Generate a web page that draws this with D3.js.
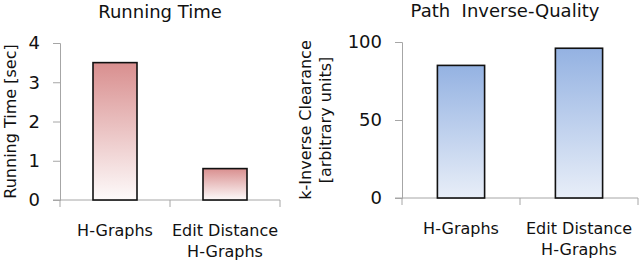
<!DOCTYPE html>
<html>
<head>
<meta charset="utf-8">
<script src="https://cdn.jsdelivr.net/npm/d3@7"></script>
<style>
  body { margin: 0; background: #fff; }
  text { font-family: "DejaVu Sans", Verdana, sans-serif; fill: #111; }
</style>
</head>
<body>
<div id="chart"></div>
<script>
const width = 640;
const height = 262;

// data
const categories = ["H-Graphs", "Edit Distance\nH-Graphs"];
const runningTime = [3.5, 0.8];
const runningTicks = [0, 1, 2, 3, 4];
const inverseQuality = [85, 96];
const qualityTicks = [0, 50, 100];

const svg = d3.select("#chart")
    .append("svg")
    .attr("width", width)
    .attr("height", height);

const defs = svg.append("defs");

function addGradient(id, top, bottom) {
    const g = defs.append("linearGradient")
        .attr("id", id)
        .attr("x1", 0).attr("y1", 0)
        .attr("x2", 0).attr("y2", 1);
    g.append("stop").attr("offset", "0%").attr("stop-color", top);
    g.append("stop").attr("offset", "100%").attr("stop-color", bottom);
}
addGradient("redGrad", "#d98f8f", "#fdfafa");
addGradient("blueGrad", "#94b2e2", "#e8eef8");

function drawPanel(opts) {
    const x = d3.scaleBand()
        .domain(categories)
        .range(opts.xRange)
        .padding(0);

    const y = d3.scaleLinear()
        .domain(opts.yDomain)
        .range(opts.yRange);

    const g = svg.append("g");
    const axisColor = "#a6a6a6";

    // y axis
    const yAxis = g.append("g")
        .attr("transform", `translate(${opts.xRange[0]},0)`)
        .call(d3.axisLeft(y).tickValues(opts.ticks).tickFormat(d3.format("d")).tickSize(7).tickPadding(13));
    yAxis.select(".domain").attr("stroke", axisColor);
    yAxis.selectAll(".tick line").attr("stroke", axisColor);
    yAxis.selectAll(".tick text")
        .attr("font-size", 18)
        .attr("fill", "#111")
        .attr("font-family", "DejaVu Sans, sans-serif");

    // x axis with ticks at category boundaries
    const x0 = opts.xRange[0], x1 = opts.xRange[1];
    const y0 = y(0);
    g.append("line")
        .attr("x1", x0 - 7).attr("x2", x1)
        .attr("y1", y0).attr("y2", y0)
        .attr("stroke", axisColor);
    const bounds = [x0].concat(categories.map(c => x(c) + x.bandwidth()));
    g.selectAll(".xtick")
        .data(bounds)
        .enter().append("line")
        .attr("class", "xtick")
        .attr("x1", d => d).attr("x2", d => d)
        .attr("y1", y0).attr("y2", y0 + 7)
        .attr("stroke", axisColor);

    // bars
    const barW = x.bandwidth() * 0.4;
    g.selectAll(".bar")
        .data(opts.values)
        .enter().append("rect")
        .attr("class", "bar")
        .attr("x", (d, i) => x(categories[i]) + (x.bandwidth() - barW) / 2)
        .attr("y", d => y(d))
        .attr("width", barW)
        .attr("height", d => y0 - y(d))
        .attr("fill", `url(#${opts.gradient})`)
        .attr("stroke", "#111")
        .attr("stroke-width", 1.6);

    // category labels
    categories.forEach(c => {
        const lines = c.split("\n");
        const t = g.append("text")
            .attr("text-anchor", "middle")
            .attr("font-size", 16)
            .attr("x", x(c) + x.bandwidth() / 2)
            .attr("y", opts.labelY);
        lines.forEach((l, i) => {
            t.append("tspan")
                .attr("x", x(c) + x.bandwidth() / 2)
                .attr("dy", i === 0 ? 0 : 21)
                .text(l);
        });
    });

    // title
    g.append("text")
        .attr("text-anchor", "middle")
        .attr("font-size", 18)
        .attr("x", opts.titleX)
        .attr("y", opts.titleY)
        .attr("xml:space", "preserve")
        .style("white-space", "pre")
        .text(opts.title);

    // y title
    const midY = (opts.yRange[0] + opts.yRange[1]) / 2;
    opts.yTitle.forEach((l, i) => {
        g.append("text")
            .attr("text-anchor", "middle")
            .attr("font-size", 16)
            .attr("transform", `translate(${opts.yTitleX + i * 20},${midY}) rotate(-90)`)
            .text(l);
    });
}

drawPanel({
    xRange: [60, 280],
    yDomain: [0, 4],
    yRange: [200, 43],
    ticks: runningTicks,
    values: runningTime,
    gradient: "redGrad",
    labelY: 236,
    title: "Running Time",
    titleX: 160,
    titleY: 18,
    yTitle: ["Running Time [sec]"],
    yTitleX: 16
});

drawPanel({
    xRange: [402, 638],
    yDomain: [0, 100],
    yRange: [198, 42],
    ticks: qualityTicks,
    values: inverseQuality,
    gradient: "blueGrad",
    labelY: 234,
    title: "Path  Inverse-Quality",
    titleX: 505,
    titleY: 17,
    yTitle: ["k-Inverse Clearance", "[arbitrary units]"],
    yTitleX: 311
});
</script>
</body>
</html>
